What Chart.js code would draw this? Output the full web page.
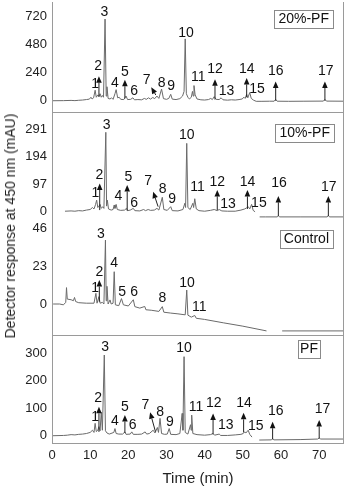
<!DOCTYPE html>
<html>
<head>
<meta charset="utf-8">
<script src="https://cdn.jsdelivr.net/npm/chart.js@4.4.1/dist/chart.umd.min.js"></script>
<style>
  html, body { margin: 0; padding: 0; background: #fff; }
  #wrap { position: relative; width: 347px; height: 495px; overflow: hidden;
          font-family: "Liberation Sans", Arial, sans-serif; }
  #wrap canvas { position: absolute; left: 0; }
  #ytitle { position: absolute; left: 10px; top: 226px; white-space: nowrap;
            transform: translate(-50%, -50%) rotate(-90deg);
            font-size: 14px; color: #222; }
</style>
</head>
<body>
<div id="wrap">
  <canvas id="c20" width="347" height="111" style="top:2px"></canvas>
  <canvas id="c10" width="347" height="109" style="top:113px"></canvas>
  <canvas id="cCtl" width="347" height="114" style="top:222px"></canvas>
  <canvas id="cPF" width="347" height="159" style="top:336px"></canvas>
  <div id="ytitle">Detector response at 450 nm (mAU)</div>
</div>
<script>
// time ticks (min)
const timeTicks = [0, 10, 20, 30, 40, 50, 60, 70];

// ---- 20%-PF ----
const ticks20 = [0, 240, 480, 720];
const trace20 = [
  [0,0],[3,1],[5,3],[6,1],[7,4],[8,6],[9,10],[9.8,14],[10.2,30],[10.5,15],[10.9,25],[11.3,90],[11.6,30],
  [12.0,50],[12.3,35],[12.6,60],[12.9,30],[13.2,45],[13.5,30],[13.9,700],[14.2,40],[14.4,120],[14.7,20],
  [15.2,15],[15.6,25],[16.0,12],[16.5,60],[16.8,95],[17.2,25],[17.6,30],[18.0,12],[18.8,10],[19.4,40],
  [19.8,10],[20.6,12],[21.2,25],[21.6,8],[22.5,10],[23.5,8],[24.2,20],[24.7,12],[25.3,25],[25.8,14],
  [26.4,28],[26.9,18],[27.5,40],[28.0,20],[28.7,100],[29.2,18],[30.0,12],[30.6,20],[31.1,55],[31.5,14],
  [32.5,10],[33.5,18],[34.2,40],[34.6,80],[34.9,530],[35.2,60],[35.6,30],[36.0,15],[36.5,30],[36.8,80],
  [37.0,40],[37.2,130],[37.5,50],[38,15],[39,8],[40,6],[41,10],[41.6,20],[42,10],[42.5,35],[43,12],
  [43.8,10],[44.3,25],[44.8,8],[46,5],[47,8],[48,6],[49,10],[49.8,15],[50.3,30],[50.6,20],[51.0,55],
  [51.3,25],[51.8,70],[52.2,20],[52.8,5],[53.5,-5],[55,-5],[57,-4],[58.2,-4],[58.6,12],[59.0,-4],
  [62,-5],[66,-4],[71.1,-3],[71.5,12],[71.9,-3],[76.5,-4]
];
const peaks20 = ["1","2","3","4","5","6","7","8","9","10","11","12","13","14","15","16","17"];
const labelT20 = [11.3,12.1,13.7,16.5,19.1,21.5,24.8,28.7,31.2,35.1,38.3,42.7,45.7,51.0,53.7,58.6,71.7];
const labelV20 = [143,300,763,152,249,86,177,154,126,583,206,269,86,272,98,257,257];
// arrows: [tailT, tailV, headT, headV]
const arrows20 = [
  [12.3,35,12.3,210],[19.1,20,19.1,180],[27.2,49,26.0,115],[42.7,10,42.7,185],
  [51.0,30,51.0,195],[58.6,0,58.6,165],[71.5,0,71.5,165]
];

// ---- 10%-PF ----
const ticks10 = [0, 97, 194, 291];
const trace10 = [
  [3.4,2],[5,3],[6,2],[7,4],[8,3],[9,6],[10,8],[10.6,15],[11.0,10],[11.4,25],[11.7,41],[12.0,15],
  [12.3,20],[12.6,26],[12.9,12],[13.3,18],[13.6,12],[14.1,280],[14.3,20],[14.5,41],[14.8,10],[15.5,6],
  [16.0,8],[16.3,24],[16.5,12],[16.8,26],[17.1,8],[18,5],[19.0,6],[19.5,12],[19.8,4],[20.5,6],[21.3,12],
  [21.7,4],[23,3],[24.0,8],[24.5,4],[25.2,8],[25.8,5],[26.8,6],[27.5,12],[28.0,6],[28.9,51],[29.3,8],
  [30.2,5],[31.1,18],[31.5,4],[33,3],[34.3,8],[34.8,30],[35.0,15],[35.3,241],[35.6,15],[36.2,8],
  [36.9,30],[37.1,15],[37.4,46],[37.8,10],[38.5,4],[40,2],[41.5,5],[42.5,8],[43.3,4],[43.8,8],[44.5,3],
  [46,2],[48,2],[49.5,6],[50.5,10],[51.0,14],[51.4,18],[51.8,10],[52.3,26],[52.7,5],[53.2,0],
  [53.7,null],[54.4,-18],[56,-18],[59.0,-18],[59.3,-14],[59.6,-18],[65,-18],[72.1,-18],[72.4,-13],
  [72.7,-18],[76.5,-18]
];
const peaks10 = ["1","2","3","4","5","6","7","8","9","10","11","12","13","14","15","16","17"];
const labelT10 = [11.4,12.4,14.3,17.4,20.0,21.5,25.2,29.0,31.5,35.3,38.1,43.3,46.1,51.2,54.2,59.5,72.5];
const labelV10 = [67,129,305,55,123,30,108,80,44,270,86,106,27,106,32,102,88];
const arrows10 = [
  [12.5,6,12.5,100],[19.7,4,19.7,94],[27.8,18,26.5,71],[43.3,6,43.3,77],
  [51.2,10,51.2,77],[59.3,-15,59.3,56],[72.4,-15,72.4,56]
];

// ---- Control ----
const ticksCtl = [0, 23, 46];
const traceCtl = [
  [0.3,0],[2,0],[3,-0.5],[3.6,1],[3.8,10],[4.0,3],[5,2.6],[5.6,2],[5.9,4],[6.2,1.5],[7,0.8],[9,0.5],
  [11,0.5],[11.5,6.5],[11.8,0.5],[12.3,4.5],[12.6,0.5],[13.2,1],[13.6,0],[14.0,39],[14.2,2],[14.4,10.8],
  [14.7,0],[15.2,2.5],[15.5,0],[16.0,0.5],[16.3,19.7],[16.6,-0.5],[17.5,-1],[18.2,3.3],[18.7,-0.5],
  [20,-1.2],[21.3,2.6],[21.7,-1.6],[23,-2.5],[24.3,-1.5],[24.6,-3.5],[26,-3.8],[28,-4.5],[28.9,-1.6],
  [29.3,-5],[31,-5.5],[33,-6],[34.9,-6.6],[35.3,8.5],[35.6,-6.8],[36.5,-8],[37.4,-7],[37.8,-8.7],
  [40,-9.4],[45,-11.5],[50,-13.5],[56.2,-16.4],[57,null],[60.3,-16.4],[76.5,-16.4]
];
const peaksCtl = ["1","2","3","4","5","6","8","10","11"];
const labelTCtl = [11.3,12.4,12.8,16.3,18.4,21.5,28.9,35.4,38.6];
const labelVCtl = [9.5,19.7,42.6,25.1,7.1,7.5,3.8,12.6,-1.8];
const arrowsCtl = [[12.4,1.4,12.4,14.6]];

// ---- PF ----
const ticksPF = [0, 100, 200, 300];
const tracePF = [
  [0,0],[3,1],[4,2],[5,4],[6,3],[7,5],[8,6],[9,8],[10,12],[10.6,20],[11.0,12],[11.3,45],[11.6,15],
  [12.0,20],[12.3,33],[12.6,18],[12.9,85],[13.2,20],[13.7,293],[14.0,18],[14.4,10],[15,6],[16.2,12],
  [16.5,26],[16.8,8],[17.5,6],[18.5,6],[19.1,14],[19.4,5],[20.5,6],[20.9,14],[21.3,5],[22.5,5],
  [23.5,6],[24.4,14],[24.8,6],[25.5,8],[26.5,20],[27.0,10],[27.6,30],[27.9,12],[28.3,63],[28.7,8],
  [29.5,5],[30.2,6],[30.7,26],[31.1,5],[32.5,4],[33.5,8],[34.1,81],[34.3,20],[34.6,287],[34.9,12],
  [35.6,6],[36.3,40],[36.45,20],[36.6,75],[36.9,8],[38,4],[40,2],[41.5,4],[42.2,8],[42.6,2],[43.8,6],
  [44.2,1],[46,1],[48,3],[49.5,5],[50.1,8],[50.5,14],[50.8,10],[51.4,20],[51.8,5],[52.4,-5],
  [53,null],[54.3,-15.6],[57.5,-15],[57.8,-10],[58.1,-15],[65,-14],[69.6,-12],[70,-8],[70.4,-12],
  [76.5,-12]
];
const peaksPF = ["1","2","3","4","5","6","7","8","9","10","11","12","13","14","15","16","17"];
const labelTPF = [11.3,12.1,13.9,16.5,19.1,21.1,24.5,28.3,30.9,34.6,37.7,42.4,45.5,50.3,53.4,58.6,70.9];
const labelVPF = [69,138,323,53,105,39,111,87,49,317,105,117,39,117,36,90,97];
const arrowsPF = [
  [12.3,14,12.3,105],[19.1,10,19.1,75],[27.1,15,25.7,85],[42.2,5,42.2,81],
  [50.2,12,50.2,83],[57.8,-13,57.8,51],[70.0,-10,70.0,57]
];

const FONT = "Liberation Sans, Arial, sans-serif";

const markers = {
  id: "markers",
  afterDatasetsDraw(chart, args, opts) {
    const ctx = chart.ctx;
    const xs = chart.scales.x, ys = chart.scales.y;
    const a = chart.chartArea;
    ctx.save();
    // frame
    ctx.strokeStyle = "#9a9a9a";
    ctx.lineWidth = 1;
    ctx.beginPath();
    ctx.moveTo(Math.round(a.left) + 0.5, a.top);
    ctx.lineTo(Math.round(a.left) + 0.5, a.bottom);
    ctx.moveTo(Math.round(a.right) - 0.5, a.top);
    ctx.lineTo(Math.round(a.right) - 0.5, a.bottom);
    if (opts.bottomLine) {
      ctx.moveTo(a.left, Math.round(a.bottom) - 0.5);
      ctx.lineTo(a.right, Math.round(a.bottom) - 0.5);
    }
    ctx.stroke();

    // peak numbers
    ctx.fillStyle = "#111";
    ctx.font = "14px " + FONT;
    ctx.textAlign = "center";
    ctx.textBaseline = "middle";
    opts.names.forEach((n, i) => {
      ctx.fillText(n, xs.getPixelForValue(opts.lt[i]), ys.getPixelForValue(opts.lv[i]));
    });

    // arrows
    ctx.strokeStyle = "#222";
    opts.arrows.forEach((ar) => {
      const x0 = xs.getPixelForValue(ar[0]), y0 = ys.getPixelForValue(ar[1]);
      const x1 = xs.getPixelForValue(ar[2]), y1 = ys.getPixelForValue(ar[3]);
      const ang = Math.atan2(y1 - y0, x1 - x0);
      const hl = 6.5, hw = 2.8;
      const bx = x1 - hl * Math.cos(ang), by = y1 - hl * Math.sin(ang);
      ctx.beginPath();
      ctx.moveTo(x0, y0);
      ctx.lineTo(bx, by);
      ctx.stroke();
      ctx.beginPath();
      ctx.moveTo(x1, y1);
      ctx.lineTo(bx + hw * Math.sin(ang), by - hw * Math.cos(ang));
      ctx.lineTo(bx - hw * Math.sin(ang), by + hw * Math.cos(ang));
      ctx.closePath();
      ctx.fill();
    });

    // sample box
    ctx.font = "14px " + FONT;
    const w = ctx.measureText(opts.box).width + opts.boxPad * 2;
    const right = a.right - opts.boxRight;
    const top = a.top + opts.boxTop;
    ctx.fillStyle = "#fff";
    ctx.fillRect(right - w, top, w, 18);
    ctx.strokeStyle = "#8a8a8a";
    ctx.strokeRect(Math.round(right - w) + 0.5, Math.round(top) + 0.5, Math.round(w), 18);
    ctx.fillStyle = "#111";
    ctx.textAlign = "center";
    ctx.fillText(opts.box, right - w / 2, top + 9.5);
    ctx.restore();
  },
};

function makePanel(id, trace, yTicks, yMin, yMax, names, lt, lv, arrows, box, boxStyle, bottom, bottomLine) {
  new Chart(document.getElementById(id), {
    type: "line",
    data: {
      datasets: [
        {
          data: trace.map((p) => ({ x: p[0], y: p[1] })),
          borderColor: "#6a6a6a",
          borderWidth: 1,
          pointRadius: 0,
          tension: 0,
          spanGaps: false,
        },
      ],
    },
    options: {
      responsive: false,
      animation: false,
      devicePixelRatio: 1,
      layout: { padding: { left: 0, right: 3, top: 0, bottom: 0 } },
      plugins: {
        legend: { display: false },
        tooltip: { enabled: false },
        markers: {
          names: names, lt: lt, lv: lv, arrows: arrows, box: box,
          boxRight: boxStyle[0], boxTop: boxStyle[1], boxPad: boxStyle[2],
          bottomLine: bottomLine,
        },
      },
      scales: {
        x: {
          type: "linear",
          display: bottom,
          min: 0,
          max: 76.5,
          grid: { display: false, drawTicks: false },
          border: { display: false },
          ticks: { font: { size: 13, family: FONT }, color: "#222", padding: 4, maxRotation: 0 },
          title: {
            display: true,
            text: "Time (min)",
            font: { size: 15, family: FONT },
            color: "#222",
            padding: { top: 0, bottom: 7 },
          },
          afterBuildTicks: (s) => { s.ticks = timeTicks.map((v) => ({ value: v })); },
          afterFit: (s) => {
            s.height = bottom ? 51 : 0;
            s.paddingLeft = 0;
            s.paddingRight = 0;
          },
        },
        y: {
          min: yMin,
          max: yMax,
          grid: { display: false, drawTicks: false },
          border: { display: false },
          ticks: { font: { size: 13, family: FONT }, color: "#222", padding: 5 },
          afterBuildTicks: (s) => { s.ticks = yTicks.map((v) => ({ value: v })); },
          afterFit: (s) => { s.width = 52; s.paddingTop = 0; s.paddingBottom = 0; },
        },
      },
    },
    plugins: [markers],
  });
}

window.onload = function () {
  makePanel("c20", trace20, ticks20, -105, 846, peaks20, labelT20, labelV20, arrows20,
    "20%-PF", [11, 8, 4], false, true);
  makePanel("c10", trace10, ticks10, -36, 348, peaks10, labelT10, labelV10, arrows10,
    "10%-PF", [10, 11, 4], false, false);
  makePanel("cCtl", traceCtl, ticksCtl, -19.5, 50, peaksCtl, labelTCtl, labelVCtl, arrowsCtl,
    "Control", [11, 8, 4], false, true);
  makePanel("cPF", tracePF, ticksPF, -30, 362, peaksPF, labelTPF, labelVPF, arrowsPF,
    "PF", [24, 4, 2], true, true);
};
</script>
</body>
</html>
